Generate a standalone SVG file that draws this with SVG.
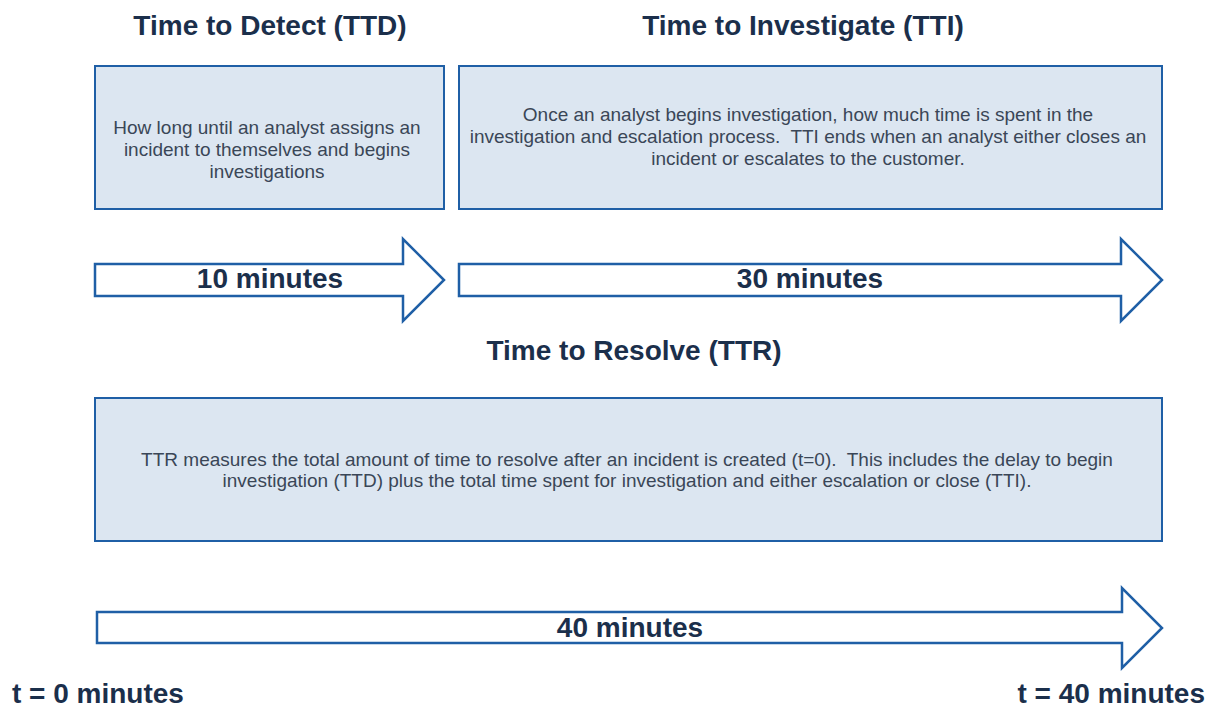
<svg xmlns="http://www.w3.org/2000/svg" width="1211" height="712" viewBox="0 0 1211 712">
  <style>
    .box { fill: #dce6f1; stroke: #1f5fa6; stroke-width: 2; }
    .arrow { fill: #ffffff; stroke: #1f5fa6; stroke-width: 2.5; stroke-linejoin: miter; }
    .title { font-family: "Liberation Sans", Arial, sans-serif; font-weight: bold; font-size: 28px; fill: #1b2f4b; text-anchor: middle; }
    .body { font-family: "Liberation Sans", Arial, sans-serif; font-size: 19px; fill: #3a4657; text-anchor: middle; }
  </style>
  <rect width="1211" height="712" fill="#ffffff"/>

  <g id="ttd">
    <text class="title" x="270" y="35">Time to Detect (TTD)</text>
    <rect class="box" x="95" y="66" width="349" height="143"/>
    <text class="body" x="267" y="134">How long until an analyst assigns an</text>
    <text class="body" x="267" y="156">incident to themselves and begins</text>
    <text class="body" x="267" y="178">investigations</text>
  </g>

  <g id="tti">
    <text class="title" x="803" y="35">Time to Investigate (TTI)</text>
    <rect class="box" x="459" y="66" width="703" height="143"/>
    <text class="body" x="808" y="121">Once an analyst begins investigation, how much time is spent in the</text>
    <text class="body" x="808" y="143" xml:space="preserve">investigation and escalation process.  TTI ends when an analyst either closes an</text>
    <text class="body" x="808" y="165">incident or escalates to the customer.</text>
  </g>

  <g id="ttr">
    <text class="title" x="634" y="360">Time to Resolve (TTR)</text>
    <rect class="box" x="95" y="398" width="1067" height="143"/>
    <text class="body" x="627" y="466" xml:space="preserve">TTR measures the total amount of time to resolve after an incident is created (t=0).  This includes the delay to begin</text>
    <text class="body" x="627" y="487">investigation (TTD) plus the total time spent for investigation and either escalation or close (TTI).</text>
  </g>

  <g id="connectors">
    <path class="arrow" d="M95,264 L403,264 L403,239 L444,280 L403,321 L403,296 L95,296 Z"/>
    <path class="arrow" d="M459,264 L1121,264 L1121,239 L1162,280 L1121,321 L1121,296 L459,296 Z"/>
    <path class="arrow" d="M97,612 L1122,612 L1122,588 L1162,628 L1122,668 L1122,643 L97,643 Z"/>
    <text class="title" x="270" y="288">10 minutes</text>
    <text class="title" x="810" y="288">30 minutes</text>
    <text class="title" x="630" y="637">40 minutes</text>
  </g>

  <g id="timeline-labels">
    <text class="title" x="12" y="703" style="text-anchor:start">t = 0 minutes</text>
    <text class="title" x="1205" y="703" style="text-anchor:end">t = 40 minutes</text>
  </g>
</svg>
